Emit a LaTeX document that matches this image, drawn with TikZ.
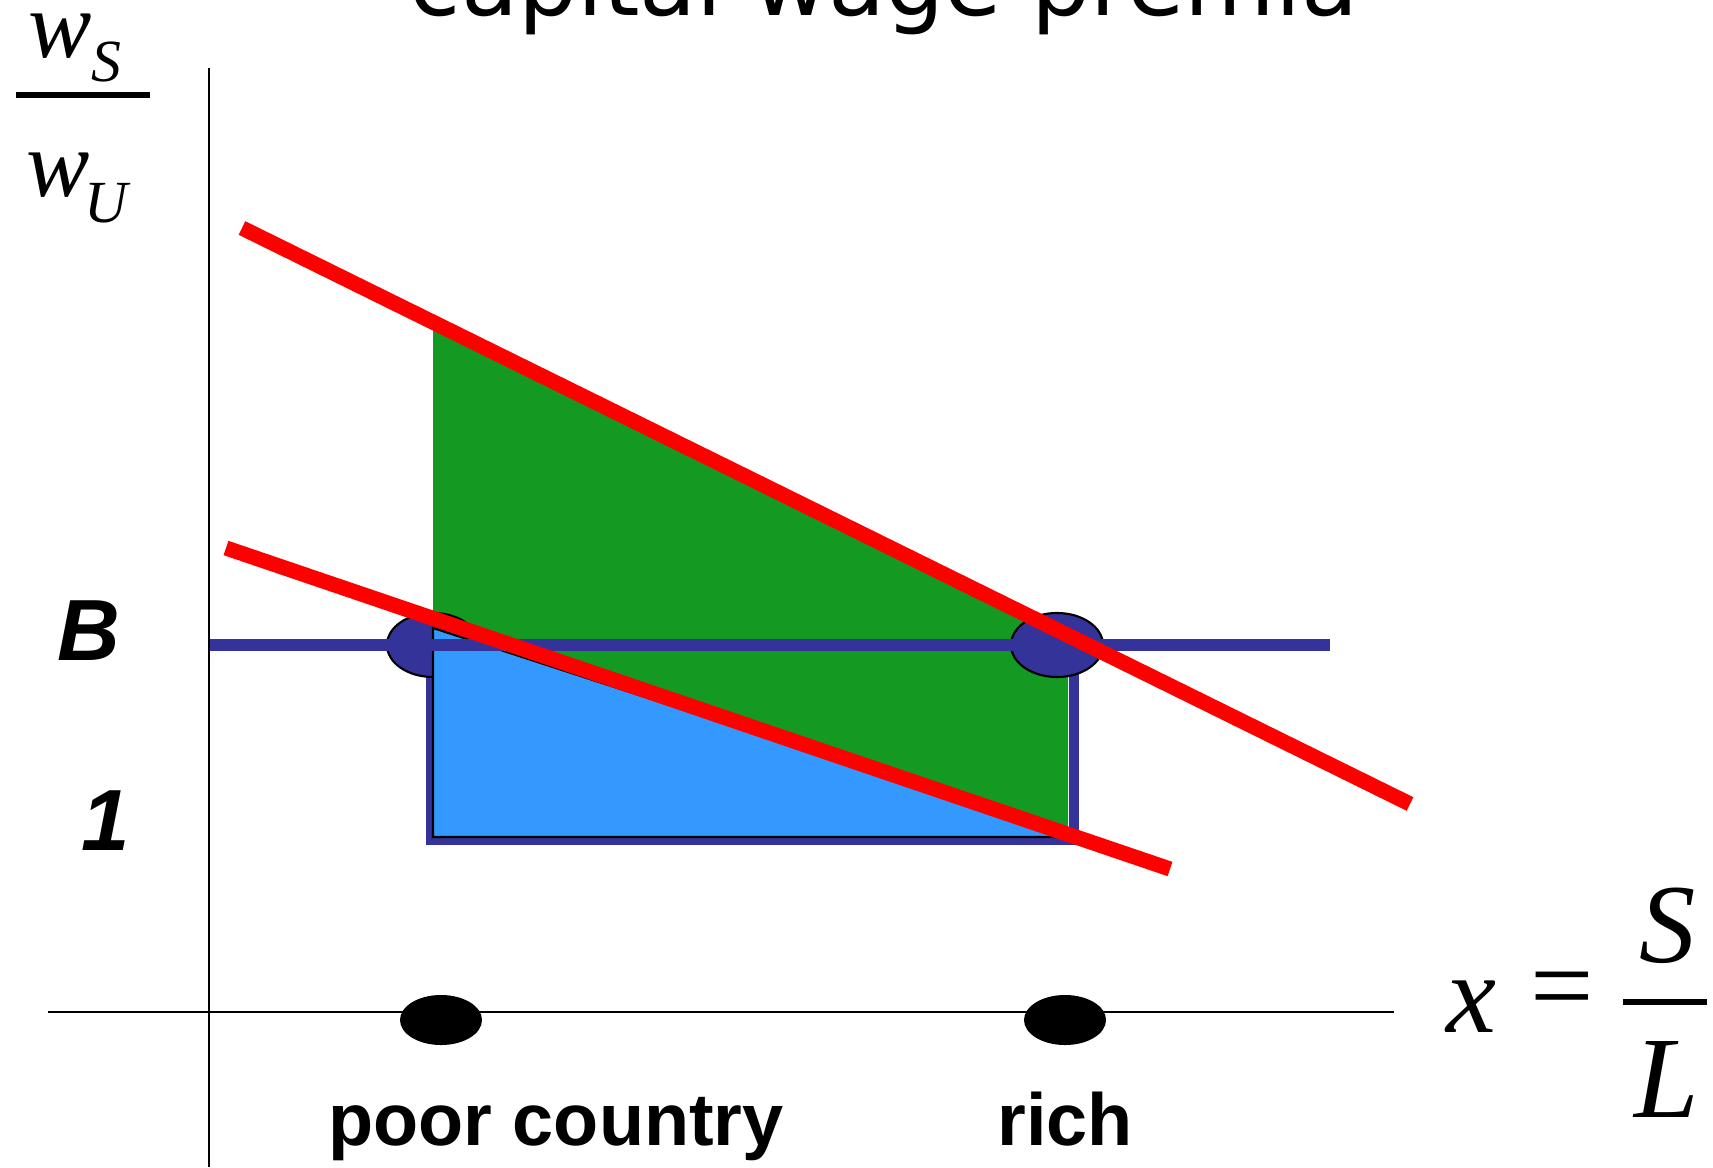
\documentclass[tikz,border=0pt]{standalone}
\usepackage{fontspec}
\setmainfont{Liberation Serif}
\newfontfamily\titlefont{DejaVu Sans}
\newfontfamily\labelfont{Liberation Sans}
\usetikzlibrary{positioning, shapes.geometric}
\definecolor{mRed}{HTML}{FF0000}
\definecolor{mGreen}{HTML}{149A22}
\definecolor{mSky}{HTML}{3399FF}
\definecolor{mNavy}{HTML}{333399}

\begin{document}
\begin{tikzpicture}[x=0.01cm, y=-0.01cm,
  axis/.style={draw=black, line width=0.6pt},
  budget/.style={draw=mRed, line width=4.3pt},
  level/.style={draw=mNavy, line width=3.4pt},
  frame/.style={draw=mNavy, line width=2.85pt, line join=miter},
  country/.style={ellipse, draw=black, line width=0.6pt, fill=mNavy,
                  minimum width=0.92cm, minimum height=0.64cm, inner sep=0},
  dot/.style={ellipse, fill=black, minimum width=0.82cm,
              minimum height=0.5cm, inner sep=0},
  mathbig/.style={inner sep=0, anchor=base west, font=\itshape\fontsize{27}{30}\selectfont},
  mathsub/.style={inner sep=0, anchor=base west, font=\itshape\fontsize{17}{20}\selectfont},
  mathx/.style={inner sep=0, anchor=base west, font=\itshape\fontsize{32}{36}\selectfont},
  tick/.style={inner sep=0, anchor=base west, font=\labelfont\bfseries\itshape\fontsize{24.7}{28}\selectfont},
  place/.style={inner sep=0, anchor=base, font=\labelfont\bfseries\fontsize{21}{25}\selectfont},
]
  \useasboundingbox (0,0) rectangle (1713,1167);
  \clip (0,0) rectangle (1713,1167);

  \node[inner sep=0, anchor=base, font=\titlefont\fontsize{26.5}{30}\selectfont]
    (title) at (884,16) {capital wage premia};

  % axes
  \coordinate (yTop) at (209,68);
  \coordinate (yBot) at (209,1167);
  \coordinate (xLft) at (48,1012);
  \coordinate (xRgt) at (1394,1012);
  \draw[axis] (yTop) -- (yBot);
  \draw[axis] (xLft) -- (xRgt);

  % regions
  \fill[mGreen] (433,323) -- (1068,636) -- (1068,834) -- (433,619) -- cycle;
  \draw[frame] (431,645) -- (431,840) -- (1074,840) -- (1074,645);
  \node[country] (poorB) at (433,645) {};
  \node[country] (richB) at (1057,645) {};
  \draw[fill=mSky, draw=black, line width=0.6pt]
    (433,628) -- (1075,837) -- (433,837) -- cycle;

  % lines
  \coordinate (lvA) at (210,645);
  \coordinate (lvB) at (1330,645);
  \draw[level] (lvA) -- (lvB);
  \coordinate (hiA) at (242,228);
  \coordinate (hiB) at (1410,804);
  \coordinate (loA) at (226,548);
  \coordinate (loB) at (1170,869);
  \draw[budget] (hiA) -- (hiB);
  \draw[budget] (loA) -- (loB);

  % y label
  \node[mathbig] (wS) at (28,58) {w};
  \node[mathsub] (sS) at (91,82) {S};
  \draw[line width=1.6pt] (16,95) -- (150,95);
  \node[mathbig] (wU) at (26,197) {w};
  \node[mathsub] (sU) at (84,223) {U};

  \node[tick] (bLevel) at (57,660) {B};
  \node[tick] (oneLevel) at (81,850) {1};

  % x axis
  \node[dot] (poorDot) at (441,1020) {};
  \node[dot] (richDot) at (1065,1020) {};
  \node[place] (poorLbl) at (556,1145) {poor country};
  \node[place] (richLbl) at (1065,1145) {rich};

  \node[mathx] (xVar) at (1446,1032) {x};
  \node[inner sep=0, anchor=base west, font=\fontsize{32}{36}\selectfont] (eqSign) at (1530,1023) {=};
  \draw[line width=1.7pt] (1623,1002) -- (1707,1002);
  \node[mathx] (sNum) at (1639,962) {S};
  \node[mathx, font=\itshape\fontsize{33}{36}\selectfont] (lDen) at (1634,1117) {L};
\end{tikzpicture}
\end{document}
